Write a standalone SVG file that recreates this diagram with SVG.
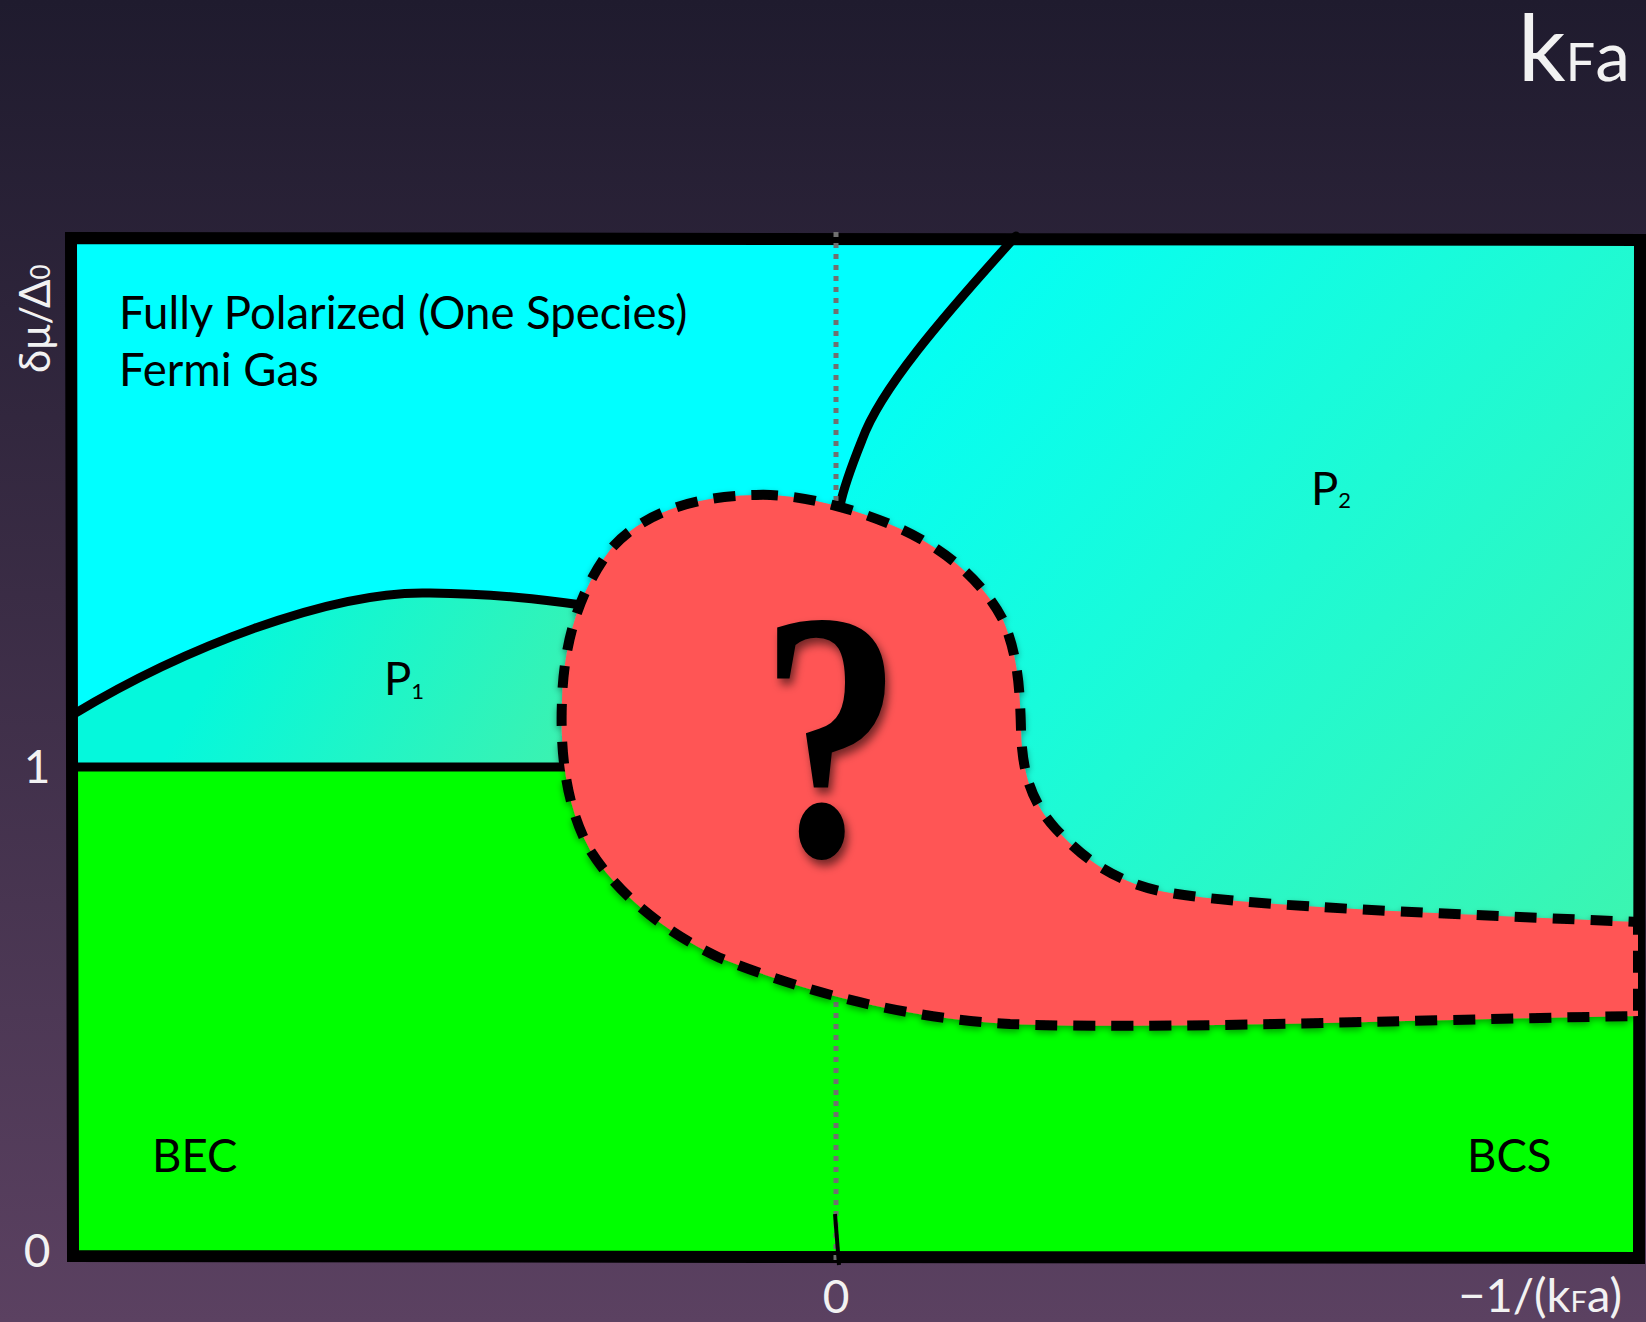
<svg xmlns="http://www.w3.org/2000/svg" width="1646" height="1322" viewBox="0 0 1646 1322">
<defs>
  <linearGradient id="bg" x1="0" y1="0" x2="0" y2="1">
    <stop offset="0" stop-color="#1f1b2e"/>
    <stop offset="1" stop-color="#5b4161"/>
  </linearGradient>
  <linearGradient id="p2g" gradientUnits="userSpaceOnUse" x1="900" y1="260" x2="1640" y2="930">
    <stop offset="0" stop-color="#00fff8"/>
    <stop offset="1" stop-color="#3cf5b0"/>
  </linearGradient>
  <linearGradient id="p1g" gradientUnits="userSpaceOnUse" x1="250" y1="600" x2="560" y2="770">
    <stop offset="0" stop-color="#05f8dc"/>
    <stop offset="1" stop-color="#3cf2b0"/>
  </linearGradient>
  <clipPath id="plot">
    <polygon points="71,238 1640,240 1639,1258 73,1256"/>
  </clipPath>
  <filter id="qs" x="-30%" y="-30%" width="160%" height="160%">
    <feDropShadow dx="4" dy="6" stdDeviation="5" flood-color="#000" flood-opacity="0.55"/>
  </filter>
  <filter id="ds" x="-10%" y="-10%" width="120%" height="130%">
    <feDropShadow dx="0" dy="3" stdDeviation="3" flood-color="#000" flood-opacity="0.35"/>
  </filter>
</defs>
<style>
  .lbl { font-family: Lato, "Open Sans", "Liberation Sans", sans-serif; font-size: 45.5px; fill: #000; }
  .ax { font-family: Lato, "Open Sans", "Liberation Sans", sans-serif; fill: #f2f2f2; }
  .solid { fill: none; stroke: #000; stroke-width: 9; stroke-linecap: round; stroke-linejoin: round; }
</style>
<rect x="0" y="0" width="1646" height="1322" fill="url(#bg)"/>

<g id="regions" clip-path="url(#plot)">
  <rect id="bcs-bec" x="60" y="230" width="1590" height="1040" fill="#00ff00"/>
  <path id="fully-polarized" d="M60,230 L1650,230 L1650,970 L1050,1000 L700,900 L570,767 L60,767 Z" fill="#00ffff"/>
  <path id="p2-region" d="M1016,236 L1650,236 L1650,960 L1200,960 L1000,800 L880,650 L845,560 L840,506 C843,490 850,470 862,440 C880,390 940,320 1016,236 Z" fill="url(#p2g)"/>
  <path id="p1-region" d="M60,720 L74,714 C180,650 330,590 430,593 C500,594 545,600 582,605 L605,650 L605,767 L60,767 Z" fill="url(#p1g)"/>
</g>

<g id="connectors">
  <path id="p2-boundary" class="solid" d="M1016,236 C940,320 880,390 862,440 C850,470 843,490 840,506"/>
  <path id="p1-upper" class="solid" d="M74,714 C180,650 330,590 430,593 C500,594 545,600 582,605"/>
  <path id="p1-lower" class="solid" d="M74,767 L570,767"/>
</g>

<g id="frame">
  <polygon points="71,238 1640,240 1639,1258 73,1256" fill="none" stroke="#000" stroke-width="12" stroke-linejoin="miter"/>
</g>

<g id="zero-line">
  <line x1="836" y1="232" x2="836" y2="1264" stroke="#707070" stroke-width="5" stroke-dasharray="5 6"/>
  <line x1="835" y1="1214" x2="839" y2="1265" stroke="#000" stroke-width="4"/>
</g>

<g id="unknown-region">
  <path d="M756,495 C800,493 860,510 903,530 C950,552 985,585 1003,620 C1018,655 1020,690 1021,730 C1022,770 1030,800 1055,828 C1080,855 1110,880 1160,891 C1230,905 1400,912 1638,922 L1638,1016 C1400,1020 1150,1030 1010,1024 C900,1018 800,990 720,958 C660,930 615,890 590,850 C565,805 560,750 562,700 C564,640 580,590 610,550 C640,515 690,496 756,495 Z" fill="#ff5555" stroke="#000" stroke-width="10" stroke-dasharray="22 16" filter="url(#ds)"/>
  <text transform="translate(831,855) scale(0.8,1)" x="0" y="0" text-anchor="middle" font-family="'Liberation Serif', 'DejaVu Serif', serif" font-weight="bold" font-size="355" fill="#000" filter="url(#qs)">?</text>
</g>

<g id="labels">
  <text class="lbl" x="119" y="329">Fully Polarized (One Species)</text>
  <text class="lbl" x="119" y="386">Fermi Gas</text>
  <text class="lbl" x="384" y="695">P<tspan font-size="22" y="699">1</tspan></text>
  <text class="lbl" x="1311" y="505">P<tspan font-size="22" y="508">2</tspan></text>
  <text class="lbl" x="152" y="1172">BEC</text>
  <text class="lbl" x="1467" y="1172">BCS</text>
</g>

<g id="axes">
  <text class="ax" x="1518" y="81" font-size="94">k<tspan font-size="52">F</tspan><tspan font-size="70">a</tspan></text>
  <text class="ax" transform="translate(50,373) rotate(-90)" x="0" y="0" font-size="42">δμ/Δ<tspan font-size="26">0</tspan></text>
  <text class="ax" x="37" y="783" text-anchor="middle" font-size="46">1</text>
  <text class="ax" x="37" y="1267" text-anchor="middle" font-size="46">0</text>
  <text class="ax" x="836" y="1313" text-anchor="middle" font-size="46">0</text>
  <text class="ax" x="1622" y="1312" text-anchor="end" font-size="47">−1/(k<tspan font-size="29">F</tspan>a)</text>
</g>
</svg>
